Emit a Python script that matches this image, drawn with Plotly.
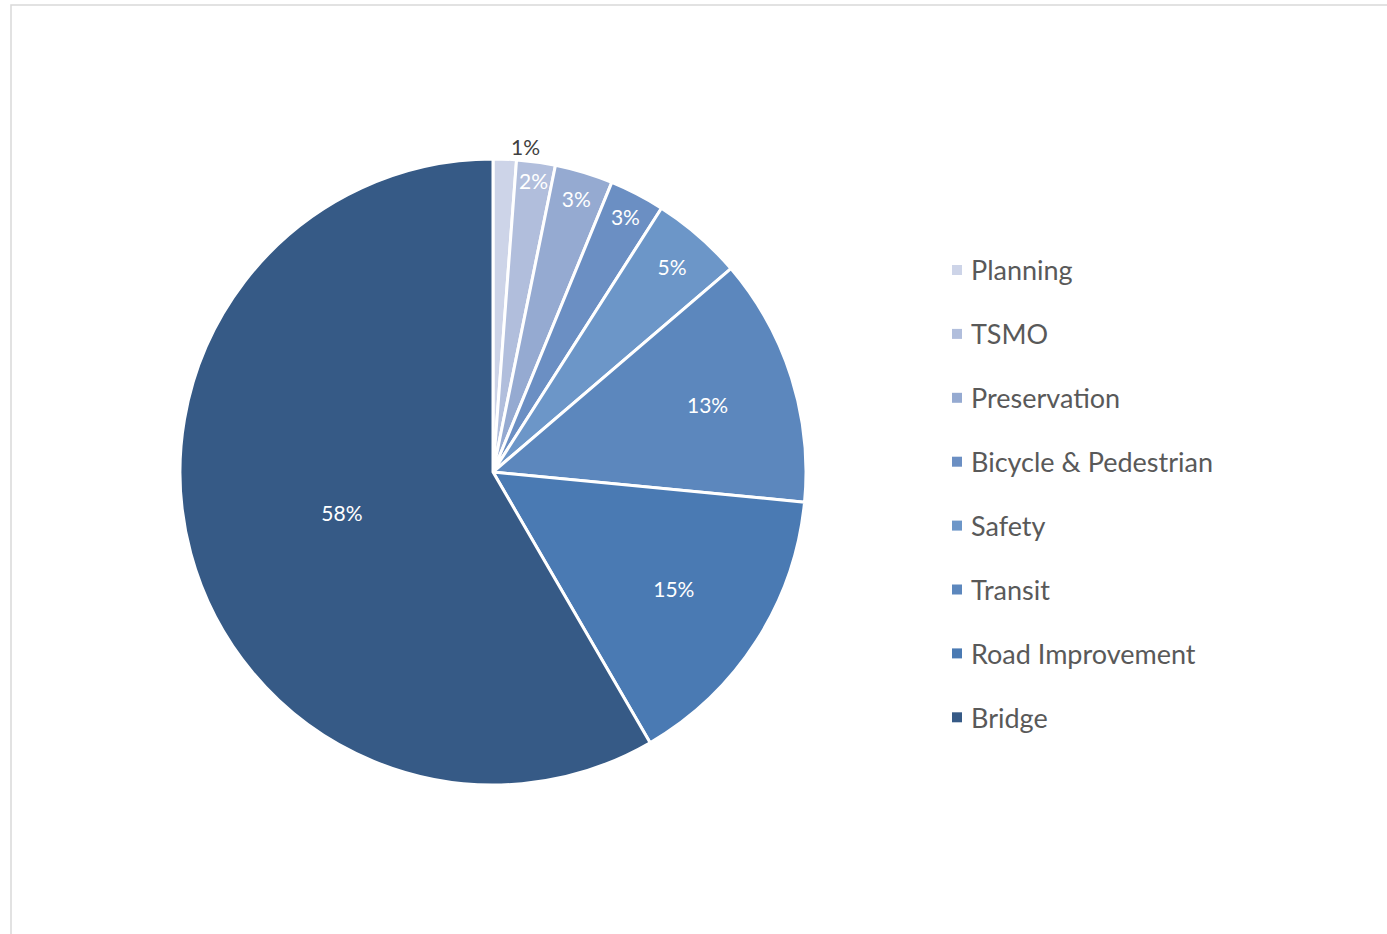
import plotly.graph_objects as go

labels = ["Planning", "TSMO", "Preservation", "Bicycle & Pedestrian", "Safety",
          "Transit", "Road Improvement", "Bridge"]
values = [1.2, 2.0, 3.0, 2.85, 4.7, 12.8, 15.1, 58.4]
colors = ["#CDD4E8", "#B1BEDC", "#95AAD1", "#6B8FC3", "#6C96C8",
          "#5C87BD", "#4A7AB3", "#365A86"]
text_positions = ["outside"] + ["inside"] * 7

W, H = 1387, 934
FONT = "Lato, 'Open Sans', sans-serif"

fig = go.Figure()
fig.add_trace(go.Pie(
    labels=labels, values=values, sort=False, direction="clockwise", rotation=0,
    marker=dict(colors=colors, line=dict(color="white", width=3)),
    texttemplate="%{percent:.0%}", textposition=text_positions,
    insidetextorientation="horizontal",
    insidetextfont=dict(color="white", size=21, family=FONT),
    outsidetextfont=dict(color="#404040", size=21, family=FONT),
    domain=dict(x=[180 / W, 806 / W], y=[1 - 785 / H, 1 - 159 / H]),
    showlegend=False, hoverinfo="label+percent",
))

# legend built from data
shapes = [dict(type="rect", xref="paper", yref="paper",
               x0=11 / W, x1=1.02, y0=-0.02, y1=1 - 5 / H,
               line=dict(color="#D9D9D9", width=1.5), fillcolor="rgba(0,0,0,0)")]
annotations = []
y0, dy = 270, 63.9
for i, (lab, col) in enumerate(zip(labels, colors)):
    yc = y0 + i * dy
    shapes.append(dict(type="rect", xref="paper", yref="paper",
                       x0=952 / W, x1=962 / W, y0=1 - (yc + 5) / H, y1=1 - (yc - 5) / H,
                       line=dict(width=0), fillcolor=col))
    annotations.append(dict(x=969 / W, y=1 - yc / H, xref="paper", yref="paper",
                            text=lab, showarrow=False, xanchor="left", yanchor="middle",
                            font=dict(size=27, color="#595959", family=FONT)))

fig.update_layout(
    width=W, height=H, margin=dict(l=0, r=0, t=0, b=0),
    paper_bgcolor="white", plot_bgcolor="white",
    shapes=shapes, annotations=annotations,
    uniformtext=dict(minsize=21, mode="show"),
    font=dict(family=FONT),
)
fig.write_html("out.html")
